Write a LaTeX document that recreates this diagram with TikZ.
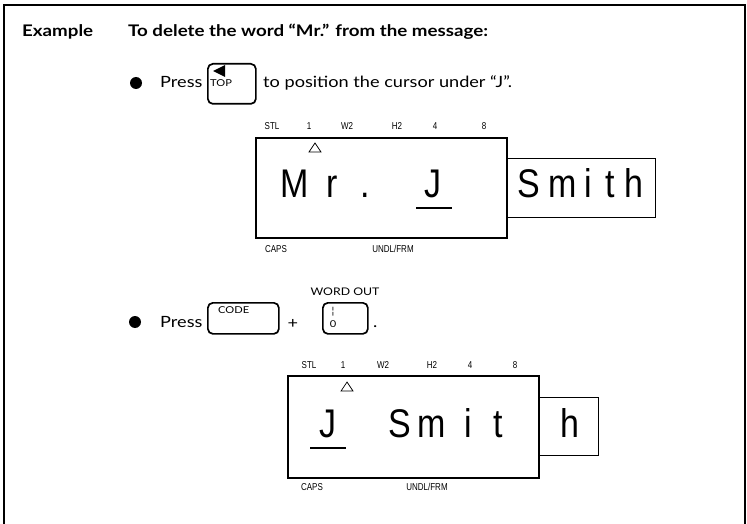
\documentclass[tikz,border=0pt]{standalone}
\usepackage{fontspec}
\setmainfont{Lato}[FakeStretch=1.17]
\newfontfamily\lcd{Liberation Sans}
\newfontfamily\lab{Liberation Sans}[FakeStretch=0.8]
\newcommand{\lcdch}[1]{\scalebox{0.85}[1]{#1}}
\begin{document}
\begin{tikzpicture}[x=1pt,y=-1pt,
  txt/.style={anchor=base west,inner sep=0pt,font=\fontsize{15.5}{18}\selectfont},
  head/.style={anchor=base west,inner sep=0pt,font=\bfseries\fontsize{16}{19}\selectfont},
  lbl/.style={anchor=base,inner sep=0pt,font=\lab\fontsize{10}{12}\selectfont},
  ch/.style={anchor=base,inner sep=0pt,font=\lcd\fontsize{40}{44}\selectfont},
  keylbl/.style={anchor=base west,inner sep=0pt,font=\fontsize{9.5}{11}\selectfont},
  keybox/.style={draw,line width=1.7pt,rounded corners=5pt},
  lcdbox/.style={draw,line width=1.8pt},
  sidebox/.style={draw,line width=0.9pt},
  uline/.style={line width=1.1pt},
  tri/.style={draw,line width=0.7pt}]
\useasboundingbox (0,0) rectangle (747,524);
% frame
\draw[line width=1.2pt] (4,524) -- (4,5) -- (745,5) -- (745,524);
% heading
\node[head] (ex) at (22,37) {Example};
\node[head] (title) at (128,37) {To delete the word “Mr.” from the message:};
% step 1
\fill (136,83) circle (6pt);
\node[txt] (press1) at (160,88) {Press};
\node[keybox,minimum width=48pt,minimum height=40pt,anchor=north west,inner sep=0pt] (topkey) at (207,63) {};
\fill (213,71) -- (225,65) -- (225,77) -- cycle;
\node[keylbl] (toplbl) at (210,87) {TOP};
\node[txt] (text1) at (263,88) {to position the cursor under “J”.};
% display 1
\node[lbl] (s1) at (272,130) {STL};
\node[lbl] (o1) at (309,130) {1};
\node[lbl] (w1) at (347,130) {W2};
\node[lbl] (h1) at (397,130) {H2};
\node[lbl] (f1) at (435,130) {4};
\node[lbl] (e1) at (484,130) {8};
\node[lcdbox,minimum width=251pt,minimum height=100pt,anchor=north west,inner sep=0pt] (disp1) at (255,137) {};
\node[sidebox,minimum width=148pt,minimum height=59pt,anchor=north west,inner sep=0pt] (side1) at (507,158) {};
\draw[tri] (309,152) -- (321,152) -- (315,143) -- cycle;
\node[ch] (c1a) at (295,197) {\lcdch{M}};
\node[ch] (c1b) at (332,197) {\lcdch{r}};
\node[ch] (c1c) at (365,197) {\lcdch{.}};
\node[ch] (c1d) at (433,197) {\lcdch{J}};
\draw[uline] (416,208) -- (452,208);
\node[ch] (c1e) at (529,197) {\lcdch{S}};
\node[ch] (c1f) at (563,197) {\lcdch{m}};
\node[ch] (c1g) at (588,197) {\lcdch{i}};
\node[ch] (c1h) at (610,197) {\lcdch{t}};
\node[ch] (c1i) at (634,197) {\lcdch{h}};
\node[lbl] (caps1) at (276,252) {CAPS};
\node[lbl] (undl1) at (393,252) {UNDL/FRM};
% step 2
\fill (135,322) circle (6pt);
\node[txt] (press2) at (160,327) {Press};
\node[keybox,minimum width=71pt,minimum height=31pt,anchor=north west,inner sep=0pt] (codekey) at (207,302) {};
\node[keylbl] (codelbl) at (218,313) {CODE};
\node[txt,anchor=base] (plus) at (293,328) {+};
\node[keybox,minimum width=45pt,minimum height=31pt,anchor=north west,inner sep=0pt] (zerokey) at (322,302) {};
\node[keylbl,anchor=base,font=\fontsize{10.5}{12}\selectfont] (wordout) at (345,295) {WORD OUT};
\node[keylbl,anchor=base] (bar) at (333,314) {\textbrokenbar};
\node[keylbl,anchor=base] (zero) at (333,327) {0};
\node[txt] (dot) at (373,327) {.};
% display 2
\node[lbl] (s2) at (309,368) {STL};
\node[lbl] (o2) at (343,368) {1};
\node[lbl] (w2) at (383,368) {W2};
\node[lbl] (h2) at (432,368) {H2};
\node[lbl] (f2) at (470,368) {4};
\node[lbl] (e2) at (515,368) {8};
\node[lcdbox,minimum width=251pt,minimum height=102pt,anchor=north west,inner sep=0pt] (disp2) at (287,375) {};
\node[sidebox,minimum width=60pt,minimum height=58pt,anchor=north west,inner sep=0pt] (side2) at (538,397) {};
\draw[tri] (341,391) -- (353,391) -- (347,382) -- cycle;
\node[ch] (c2a) at (328,437) {\lcdch{J}};
\draw[uline] (310,448) -- (346,448);
\node[ch] (c2b) at (400,437) {\lcdch{S}};
\node[ch] (c2c) at (432,437) {\lcdch{m}};
\node[ch] (c2d) at (468,437) {\lcdch{i}};
\node[ch] (c2e) at (498,437) {\lcdch{t}};
\node[ch] (c2f) at (570,437) {\lcdch{h}};
\node[lbl] (caps2) at (312,490) {CAPS};
\node[lbl] (undl2) at (427,490) {UNDL/FRM};
\end{tikzpicture}
\end{document}
